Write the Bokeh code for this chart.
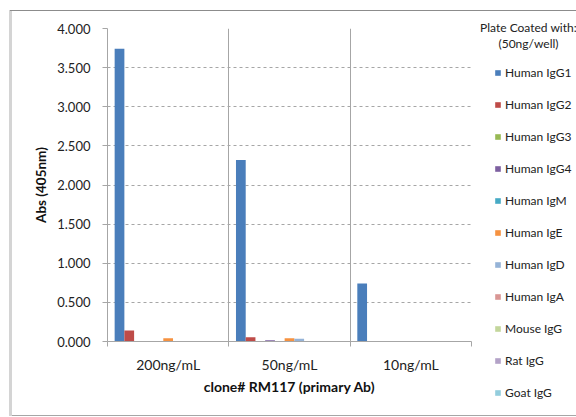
import numpy as np
from bokeh.plotting import figure
from bokeh.layouts import row, column
from bokeh.models import (Range1d, FixedTicker, NumeralTickFormatter, Legend, LegendItem,
                          Label, ColumnDataSource)
from bokeh.embed import file_html
from bokeh.resources import INLINE

groups = ["200ng/mL", "50ng/mL", "10ng/mL"]
series = ["Human IgG1", "Human IgG2", "Human IgG3", "Human IgG4", "Human IgM", "Human IgE",
          "Human IgD", "Human IgA", "Mouse IgG", "Rat IgG", "Goat IgG"]
colors = ["#4A7EBB", "#BE4B48", "#98B954", "#7D60A0", "#46AAC5", "#F69240",
          "#95B3D7", "#D99694", "#C3D69B", "#B3A2C7", "#93CDDD"]

human_igg1 = [3.74, 2.32, 0.74]
human_igg2 = [0.14, 0.055, 0.0]
human_igg3 = [0.0, 0.0, 0.0]
human_igg4 = [0.0, 0.015, 0.0]
human_igm = [0.0, 0.0, 0.0]
human_ige = [0.04, 0.04, 0.0]
human_igd = [0.0, 0.035, 0.0]
human_iga = [0.0, 0.0, 0.0]
mouse_igg = [0.0, 0.0, 0.0]
rat_igg = [0.0, 0.0, 0.0]
goat_igg = [0.0, 0.0, 0.0]
values = [human_igg1, human_igg2, human_igg3, human_igg4, human_igm, human_ige,
          human_igd, human_iga, mouse_igg, rat_igg, goat_igg]

FONT = "Lato"
GRID = "#A6A6A6"
TXT = "#222222"
TOP, BOTTOM = 28, 76

p = figure(width=473, height=417, output_backend="svg", toolbar_location=None,
           x_range=Range1d(0, len(groups)), y_range=Range1d(0, 4),
           min_border_left=107, min_border_right=2, min_border_top=TOP, min_border_bottom=BOTTOM)
p.outline_line_color = None
p.border_fill_color = None

bw = 0.0802
centers = np.arange(len(groups)) + 0.5
for i, (name, vals, col) in enumerate(zip(series, values, colors)):
    src = ColumnDataSource(dict(x=centers + (i - (len(series) - 1) / 2) * bw, top=vals))
    p.vbar(x="x", top="top", width=bw, source=src, fill_color=col, line_color=None)

# x axis
p.xaxis.ticker = FixedTicker(ticks=list(centers), minor_ticks=list(range(len(groups) + 1)))
p.xaxis.major_label_overrides = {float(c): g for c, g in zip(centers, groups)}
p.xaxis.major_tick_line_color = None
p.xaxis.minor_tick_out = 5
p.xaxis.minor_tick_in = 0
p.xaxis.minor_tick_line_color = GRID
p.xaxis.axis_line_color = GRID
p.xaxis.major_label_text_font = FONT
p.xaxis.major_label_text_font_size = "14px"
p.xaxis.major_label_text_color = TXT
p.xaxis.major_label_standoff = 8
p.xaxis.axis_label = "clone# RM117 (primary Ab)"
p.xaxis.axis_label_text_font = FONT
p.xaxis.axis_label_text_font_size = "14px"
p.xaxis.axis_label_text_font_style = "bold"
p.xaxis.axis_label_text_color = "#111111"
p.xaxis.axis_label_standoff = 2

p.xgrid.grid_line_color = None
p.xgrid.minor_grid_line_color = GRID
p.xgrid.minor_grid_line_width = 1

# y axis
p.yaxis.ticker = FixedTicker(ticks=[0, 0.5, 1, 1.5, 2, 2.5, 3, 3.5, 4])
p.yaxis.formatter = NumeralTickFormatter(format="0.000")
p.yaxis.minor_tick_line_color = None
p.yaxis.major_tick_out = 5
p.yaxis.major_tick_in = 0
p.yaxis.major_tick_line_color = GRID
p.yaxis.axis_line_color = GRID
p.yaxis.major_label_text_font = FONT
p.yaxis.major_label_text_font_size = "13px"
p.yaxis.major_label_text_color = TXT
p.yaxis.major_label_standoff = 12
p.yaxis.axis_label = "Abs (405nm)"
p.yaxis.axis_label_text_font = FONT
p.yaxis.axis_label_text_font_size = "13.5px"
p.yaxis.axis_label_text_font_style = "bold"
p.yaxis.axis_label_text_color = "#111111"
p.yaxis.axis_label_standoff = 5

p.ygrid.grid_line_color = GRID
p.ygrid.grid_line_dash = "3 3"

# legend panel: its own frame covers its whole canvas (0..417)
lg = figure(width=103, height=417, output_backend="svg", toolbar_location=None,
            x_range=Range1d(0, 1), y_range=Range1d(0, 1),
            min_border_left=0, min_border_right=0, min_border_top=0, min_border_bottom=0,
            x_axis_location=None, y_axis_location=None)
lg.outline_line_color = None
lg.border_fill_color = None
lg.background_fill_color = None
lg.grid.visible = False

items = []
for name, col in zip(series, colors):
    proxy = lg.vbar(x=[5], top=[0.5], width=0.1, fill_color=col, line_color=None)
    items.append(LegendItem(label=name, renderers=[proxy]))

legend = Legend(items=items, location=(21, 17.5), orientation="vertical",
                glyph_width=7, glyph_height=7, label_height=7, spacing=17,
                label_standoff=4, padding=0, margin=0, border_line_color=None,
                background_fill_alpha=0, label_text_font=FONT, label_text_font_size="12px",
                label_text_color=TXT, label_text_baseline="middle")
lg.add_layout(legend, "center")

for txt, yy in [("Plate Coated with:", 390), ("(50ng/well)", 374)]:
    lg.add_layout(Label(x=55, y=yy, x_units="screen", y_units="screen", text=txt,
                        text_align="center", text_baseline="middle", text_font=FONT,
                        text_font_size="12px", text_color=TXT))

layout = row(p, column(lg))
# chart-area frame lines (top, left, bottom) as in the reference
layout.styles = {
    "background-color": "white",
    "background-image": ("linear-gradient(#8C8C8C,#8C8C8C), linear-gradient(#D4D4D4,#D4D4D4), "
                         "linear-gradient(#A6A6A6,#A6A6A6)"),
    "background-size": "566px 1px, 3px 406px, 566px 1px",
    "background-position": "10px 10px, 9px 10px, 10px 415px",
    "background-repeat": "no-repeat",
}
open("out.html", "w").write(file_html(layout, INLINE))
